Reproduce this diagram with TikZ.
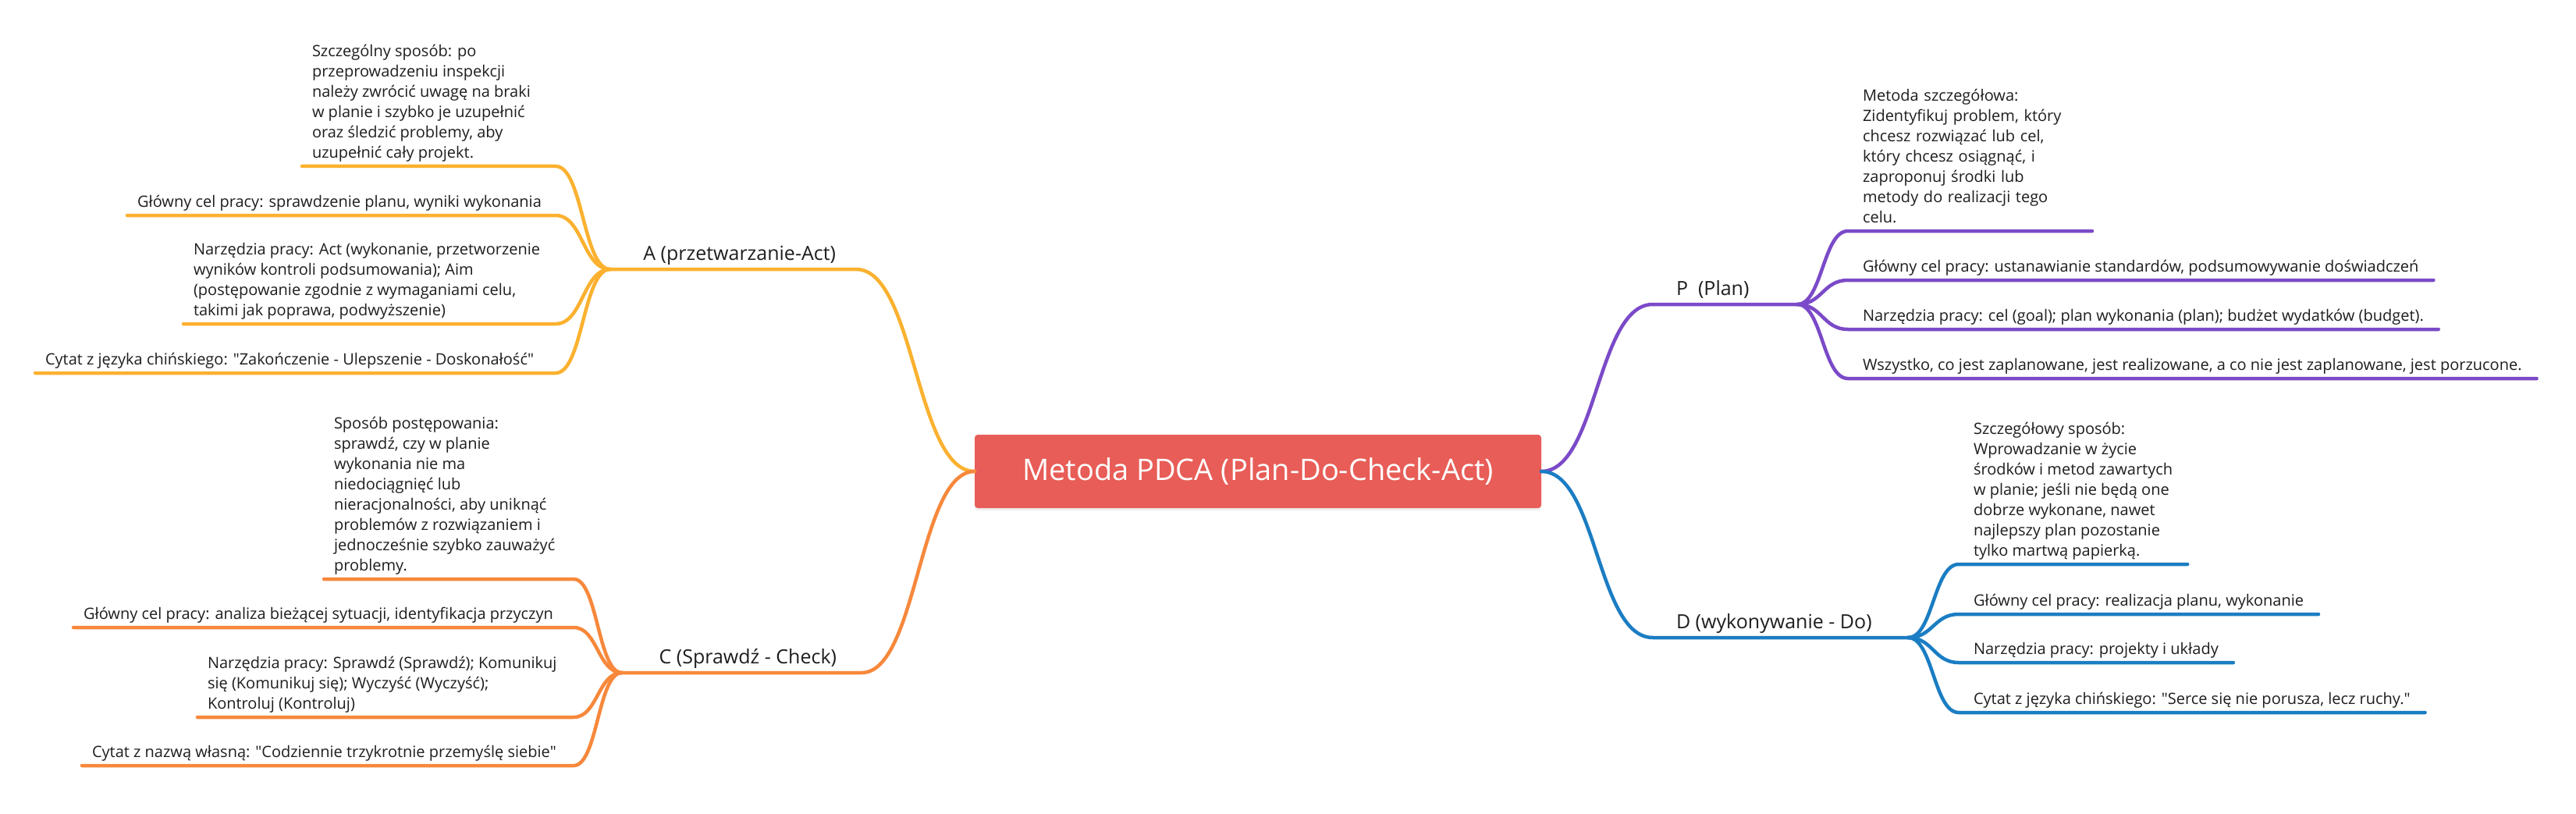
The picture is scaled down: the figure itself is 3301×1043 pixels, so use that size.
\documentclass[tikz,border=0pt]{standalone}
\usepackage{fontspec}
\setmainfont{Open Sans}[Ligatures=TeXOff]
\usetikzlibrary{shadows}
\definecolor{cRed}{HTML}{E85D57}
\definecolor{cYel}{HTML}{FBB12F}
\definecolor{cOra}{HTML}{F7883B}
\definecolor{cPur}{HTML}{7B4AC8}
\definecolor{cBlu}{HTML}{1B7DC3}
\definecolor{cTxt}{HTML}{1E1E1E}
\begin{document}
\begin{tikzpicture}[x=0.5pt,y=-0.5pt,
  leaf/.style={font=\fontsize{10pt}{13pt}\selectfont, text=cTxt, align=left,
    inner ysep=1.35pt, outer sep=0pt, execute at end node=\strut},
  lleaf/.style={leaf, anchor=south west, inner xsep=6.5pt},
  rleaf/.style={leaf, anchor=south west, inner xsep=9.5pt},
  blab/.style={font=\fontsize{12.5pt}{15pt}\selectfont, text=cTxt, inner sep=0pt, outer sep=0pt},
  link/.style={line width=2.25pt, line cap=round, line join=round},
]
\useasboundingbox (0,0) rectangle (3301,1043);
\fill[white] (0,0) rectangle (3301,1043);

% central node
\node[fill=cRed, text=white, rounded corners=2pt, minimum width=363pt, minimum height=47pt,
  inner sep=0pt, outer sep=0pt, font=\fontsize{19pt}{23pt}\selectfont,
  drop shadow={opacity=0.12, shadow xshift=0pt, shadow yshift=-1.5pt}]
  (ctr) at (1612,604) {Metoda PDCA (Plan-Do-Check-Act)};

% ---------- branch labels and joints
\node[blab, anchor=base east] (A) at (1071,333) {A (przetwarzanie-Act)};
\node[blab, anchor=base east] (C) at (1072,850) {C (Sprawdź - Check)};
\node[blab, anchor=base west] (P) at (2148,378) {P\ \ (Plan)};
\node[blab, anchor=base west] (D) at (2148,805) {D (wykonywanie - Do)};

\coordinate (cA) at (1097,345); \coordinate (fA) at (782,345); \coordinate (kA) at (712,0);
\coordinate (cC) at (1104,862); \coordinate (fC) at (797,862); \coordinate (kC) at (735,0);
\coordinate (cP) at (2118,390); \coordinate (fP) at (2303,390);
\coordinate (cD) at (2118,817); \coordinate (fD) at (2445,817);

% ---------- A leaves
\node[lleaf] (a1) at (387,213) {Szczególny sposób: po\\przeprowadzeniu inspekcji\\należy zwrócić uwagę na braki\\w planie i szybko je uzupełnić\\oraz śledzić problemy, aby\\uzupełnić cały projekt.};
\node[lleaf] (a2) at (163,276) {Główny cel pracy: sprawdzenie planu, wyniki wykonania};
\node[lleaf] (a3) at (235,415) {Narzędzia pracy: Act (wykonanie, przetworzenie\\wyników kontroli podsumowania); Aim\\(postępowanie zgodnie z wymaganiami celu,\\takimi jak poprawa, podwyższenie)};
\node[lleaf] (a4) at (45,478) {Cytat z języka chińskiego: "Zakończenie - Ulepszenie - Doskonałość"};

% ---------- C leaves
\node[lleaf] (c1) at (415,742) {Sposób postępowania:\\sprawdź, czy w planie\\wykonania nie ma\\niedociągnięć lub\\nieracjonalności, aby uniknąć\\problemów z rozwiązaniem i\\jednocześnie szybko zauważyć\\problemy.};
\node[lleaf] (c2) at (94,804) {Główny cel pracy: analiza bieżącej sytuacji, identyfikacja przyczyn};
\node[lleaf] (c3) at (253,919) {Narzędzia pracy: Sprawdź (Sprawdź); Komunikuj\\się (Komunikuj się); Wyczyść (Wyczyść);\\Kontroluj (Kontroluj)};
\node[lleaf] (c4) at (105,981) {Cytat z nazwą własną: "Codziennie trzykrotnie przemyślę siebie"};

% ---------- P leaves
\node[rleaf, text width=137.5pt] (p1) at (2368,296) {Metoda szczegółowa:\\Zidentyfikuj problem, który\\chcesz rozwiązać lub cel,\\który chcesz osiągnąć, i\\zaproponuj środki lub\\metody do realizacji tego\\celu.};
\node[rleaf] (p2) at (2368,359) {Główny cel pracy: ustanawianie standardów, podsumowywanie doświadczeń};
\node[rleaf] (p3) at (2368,422) {Narzędzia pracy: cel (goal); plan wykonania (plan); budżet wydatków (budget).};
\node[rleaf] (p4) at (2368,485) {Wszystko, co jest zaplanowane, jest realizowane, a co nie jest zaplanowane, jest porzucone.};

% ---------- D leaves
\node[rleaf] (d1) at (2510,723) {Szczegółowy sposób:\\Wprowadzanie w życie\\środków i metod zawartych\\w planie; jeśli nie będą one\\dobrze wykonane, nawet\\najlepszy plan pozostanie\\tylko martwą papierką.};
\node[rleaf] (d2) at (2510,787) {Główny cel pracy: realizacja planu, wykonanie};
\node[rleaf] (d3) at (2510,849) {Narzędzia pracy: projekty i układy};
\node[rleaf] (d4) at (2510,913) {Cytat z języka chińskiego: "Serce się nie porusza, lecz ruchy."};

% ---------- main branches
\draw[link, cYel] (ctr.west) .. controls +(-76,0) and +(76,0) .. (cA) -- (fA);
\draw[link, cOra] (ctr.west) .. controls +(-72,0) and +(72,0) .. (cC) -- (fC);
\draw[link, cPur] (ctr.east) .. controls +(72,0) and +(-72,0) .. (cP) -- (fP);
\draw[link, cBlu] (ctr.east) .. controls +(72,0) and +(-72,0) .. (cD) -- (fD);

% ---------- leaf connectors
\foreach \n in {a1,a2,a3,a4}
  \draw[link, cYel] (fA) .. controls +(-35,0) and +(35,0) .. (kA |- \n.south) -- (\n.south west);
\foreach \n in {c1,c2,c3,c4}
  \draw[link, cOra] (fC) .. controls +(-31,0) and +(31,0) .. (kC |- \n.south) -- (\n.south west);
\foreach \n in {p1,p2,p3,p4}
  \draw[link, cPur] (fP) .. controls +(32,0) and +(-32,0) .. (\n.south west) -- (\n.south east);
\foreach \n in {d1,d2,d3,d4}
  \draw[link, cBlu] (fD) .. controls +(32,0) and +(-32,0) .. (\n.south west) -- (\n.south east);
\end{tikzpicture}
\end{document}
